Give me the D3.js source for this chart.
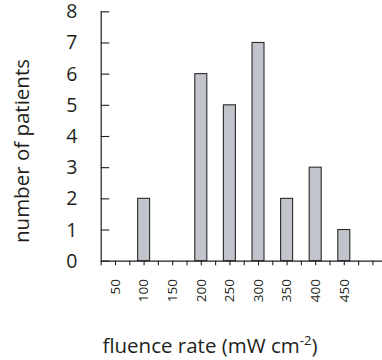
<!DOCTYPE html>
<html>
<head>
<meta charset="utf-8">
<script src="https://cdn.jsdelivr.net/npm/d3@7"></script>
<style>
  html, body { margin: 0; padding: 0; background: #fff; }
  svg { display: block; }
  text { font-family: "Open Sans", "Noto Sans", sans-serif; fill: #231f20; }
</style>
</head>
<body>
<svg id="chart" width="382" height="360"></svg>
<script>
// Fluence rate bins (mW cm^-2) and patient counts per bin
const fluence = [50, 100, 150, 200, 250, 300, 350, 400, 450];
const patients = [0, 2, 0, 6, 5, 7, 2, 3, 1];
const yTicks = [0, 1, 2, 3, 4, 5, 6, 7, 8];
const xLabels = [50, 100, 150, 200, 250, 300, 350, 400, 450];
const xMinorTicks = d3.range(25, 501, 25);

const svg = d3.select("#chart");
const ink = "#231f20";

const x = d3.scaleLinear().domain([25, 525]).range([100.7, 386.7]);
const y = d3.scaleLinear().domain([0, 8]).range([260.7, 11.3]);

const barWidth = 12;

// Bars
svg.append("g")
  .selectAll("rect")
  .data(fluence.map((f, i) => ({ f, n: patients[i] })).filter(d => d.n > 0))
  .join("rect")
  .attr("x", d => x(d.f) - barWidth / 2)
  .attr("y", d => y(d.n))
  .attr("width", barWidth)
  .attr("height", d => y(0) - y(d.n))
  .attr("fill", "#c2c4cb")
  .attr("stroke", "#2b2b2b")
  .attr("stroke-width", 1.1);

// Y axis: ticks point inward toward the plot
const yAxis = svg.append("g")
  .attr("transform", `translate(${x(25)},0)`)
  .call(d3.axisRight(y).tickValues(yTicks).tickSize(8.5).tickFormat(""));
yAxis.select(".domain").attr("stroke", ink).attr("stroke-width", 1.2).attr("d", `M0.5,${y(8)}V${y(0)}`);
yAxis.selectAll(".tick line").attr("stroke", ink).attr("stroke-width", 1.1);

// Y tick labels
svg.append("g")
  .selectAll("text")
  .data(yTicks)
  .join("text")
  .attr("x", 77.5)
  .attr("y", d => y(d))
  .attr("dy", "0.36em")
  .attr("text-anchor", "end")
  .attr("font-size", 19.5)
  .text(d => d);

// X axis: long baseline with small downward ticks every 25
const xAxis = svg.append("g")
  .attr("transform", `translate(0,${y(0)})`)
  .call(d3.axisBottom(x).tickValues(xMinorTicks).tickSize(4.5).tickFormat(""));
xAxis.select(".domain").attr("stroke", ink).attr("stroke-width", 1.2).attr("d", `M${x(25)},0.5H382`);
xAxis.selectAll(".tick line").attr("stroke", ink).attr("stroke-width", 1.1);

// Rotated x tick labels
svg.append("g")
  .selectAll("text")
  .data(xLabels)
  .join("text")
  .attr("transform", d => `translate(${x(d)},279) rotate(-90)`)
  .attr("dy", "0.36em")
  .attr("text-anchor", "end")
  .attr("font-size", 13.5)
  .text(d => d);

// Axis titles
svg.append("text")
  .attr("transform", "translate(28.5,151) rotate(-90)")
  .attr("text-anchor", "middle")
  .attr("font-size", 20.5)
  .text("number of patients");

const xt = svg.append("text")
  .attr("x", 210)
  .attr("y", 352.5)
  .attr("text-anchor", "middle")
  .attr("font-size", 20.5);
xt.append("tspan").text("fluence rate (mW cm");
xt.append("tspan").attr("font-size", 13).attr("dy", -8).text("-2");
xt.append("tspan").attr("dy", 8).text(")");
</script>
</body>
</html>
